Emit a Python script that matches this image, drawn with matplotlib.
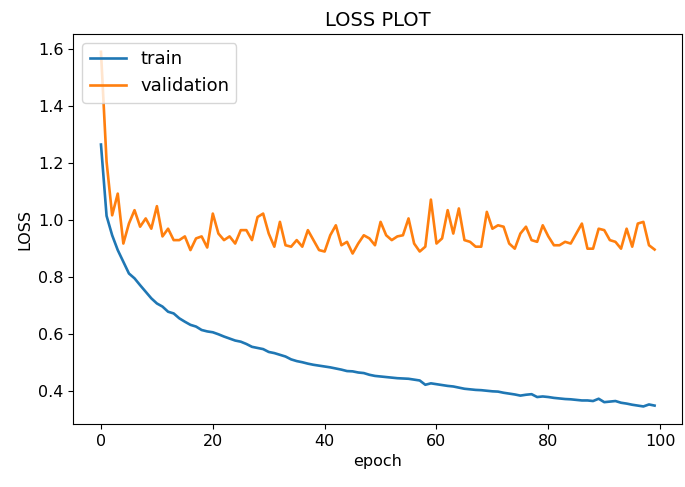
import matplotlib
matplotlib.use("Agg")
import matplotlib.pyplot as plt

epochs = list(range(100))

train = [1.265, 1.015, 0.947, 0.895, 0.854, 0.813, 0.796, 0.772, 0.749, 0.726,
         0.708, 0.697, 0.679, 0.673, 0.656, 0.644, 0.633, 0.627, 0.615, 0.610,
         0.607, 0.600, 0.592, 0.585, 0.578, 0.574, 0.566, 0.556, 0.552, 0.548,
         0.538, 0.534, 0.528, 0.522, 0.512, 0.506, 0.502, 0.497, 0.493, 0.490,
         0.487, 0.484, 0.480, 0.476, 0.471, 0.470, 0.466, 0.464, 0.458, 0.454,
         0.452, 0.450, 0.448, 0.446, 0.445, 0.444, 0.441, 0.438, 0.423, 0.428,
         0.425, 0.422, 0.419, 0.417, 0.413, 0.409, 0.407, 0.405, 0.404, 0.402,
         0.400, 0.399, 0.395, 0.392, 0.389, 0.385, 0.388, 0.390, 0.380, 0.382,
         0.380, 0.377, 0.375, 0.373, 0.372, 0.370, 0.368, 0.368, 0.366, 0.374,
         0.362, 0.364, 0.366, 0.360, 0.357, 0.353, 0.350, 0.347, 0.354, 0.350]

validation = [1.590, 1.205, 1.017, 1.093, 0.918, 0.988, 1.035, 0.977, 1.006, 0.970,
              1.049, 0.943, 0.970, 0.930, 0.930, 0.943, 0.895, 0.936, 0.943, 0.904,
              1.023, 0.953, 0.930, 0.943, 0.918, 0.965, 0.965, 0.930, 1.011, 1.023,
              0.953, 0.907, 0.994, 0.912, 0.907, 0.930, 0.907, 0.965, 0.930, 0.895,
              0.890, 0.947, 0.982, 0.912, 0.924, 0.883, 0.918, 0.947, 0.936, 0.912,
              0.994, 0.947, 0.930, 0.943, 0.947, 1.006, 0.918, 0.890, 0.907, 1.072,
              0.918, 0.936, 1.035, 0.953, 1.041, 0.930, 0.924, 0.907, 0.907, 1.029,
              0.970, 0.982, 0.977, 0.918, 0.900, 0.953, 0.977, 0.930, 0.924, 0.982,
              0.943, 0.912, 0.912, 0.924, 0.918, 0.953, 0.988, 0.900, 0.900, 0.970,
              0.965, 0.930, 0.924, 0.900, 0.970, 0.907, 0.988, 0.994, 0.912, 0.897]

fig = plt.figure(figsize=(6.85, 4.87), dpi=100)
ax = fig.add_axes([0.107, 0.129, 0.889, 0.801])
ax.plot(epochs, train, color="#1f77b4", lw=1.9, label="train")
ax.plot(epochs, validation, color="#ff7f0e", lw=1.9, label="validation")
ax.set_title("LOSS PLOT", fontsize=14)
ax.set_xlabel("epoch", fontsize=11.5)
ax.set_ylabel("LOSS", fontsize=11.5)
ax.set_xticks([0, 20, 40, 60, 80, 100])
ax.set_yticks([0.4, 0.6, 0.8, 1.0, 1.2, 1.4, 1.6])
ax.tick_params(labelsize=11.5)
ax.legend(loc="upper left", fontsize=13)
fig.savefig("out.png", dpi=100)
